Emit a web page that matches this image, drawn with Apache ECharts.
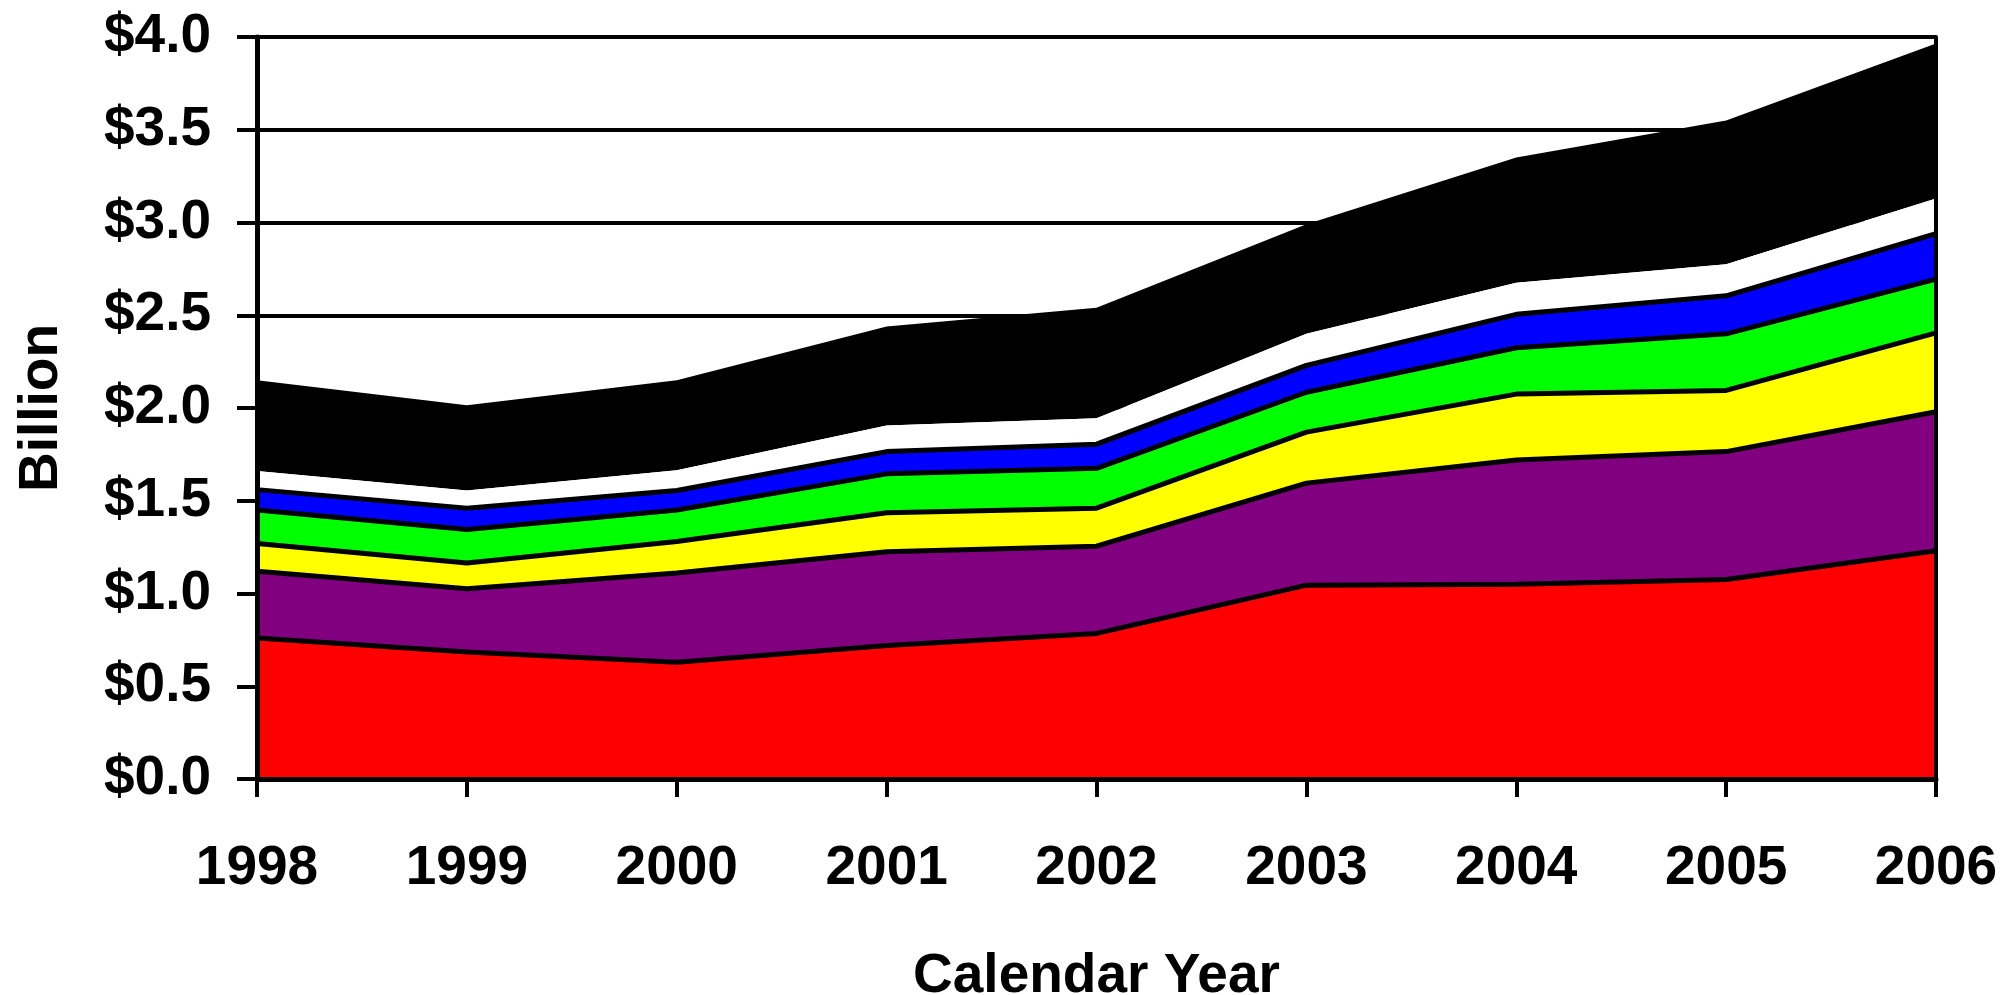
<!DOCTYPE html>
<html>
<head>
<meta charset="utf-8">
<script src="https://cdn.jsdelivr.net/npm/echarts@6/dist/echarts.min.js"></script>
<style>
html,body{margin:0;padding:0;background:#fff;}
#chart{width:2002px;height:995px;}
</style>
</head>
<body>
<div id="chart"></div>
<script>
// Data (billions of dollars, per layer, stacked bottom to top)
var years = ['1998','1999','2000','2001','2002','2003','2004','2005','2006'];
var yTickLabels = ['$0.0','$0.5','$1.0','$1.5','$2.0','$2.5','$3.0','$3.5','$4.0'];
var redVals    = [0.76, 0.685, 0.63, 0.72, 0.785, 1.045, 1.05, 1.075, 1.23];
var purpleVals = [0.36, 0.34, 0.48, 0.505, 0.47, 0.55, 0.67, 0.69, 0.75];
var yellowVals = [0.15, 0.14, 0.17, 0.21, 0.205, 0.275, 0.355, 0.33, 0.425];
var greenVals  = [0.18, 0.18, 0.17, 0.21, 0.215, 0.215, 0.25, 0.305, 0.29];
var blueVals   = [0.11, 0.115, 0.105, 0.12, 0.13, 0.145, 0.18, 0.205, 0.245];
var whiteVals  = [0.10, 0.095, 0.11, 0.14, 0.14, 0.17, 0.17, 0.17, 0.19];
var blackVals  = [0.49, 0.46, 0.485, 0.535, 0.595, 0.59, 0.675, 0.775, 0.835];

var layers = [
  {name:'Red', data: redVals, color:'#FF0000', line:5},
  {name:'Purple', data: purpleVals, color:'#800080', line:5},
  {name:'Yellow', data: yellowVals, color:'#FFFF00', line:5},
  {name:'Green', data: greenVals, color:'#00FF00', line:5},
  {name:'Blue', data: blueVals, color:'#0000FF', line:5},
  {name:'White', data: whiteVals, color:'#FFFFFF', line:0},
  {name:'Black', data: blackVals, color:'#000000', line:0}
];

var font = '"Liberation Sans", Arial, sans-serif';
var chart = echarts.init(document.getElementById('chart'), null, {renderer:'canvas'});

var series = layers.map(function(l, i){
  return {
    name: l.name,
    type: 'line',
    stack: 'total',
    data: l.data,
    symbol: 'none',
    z: 10 - i,
    lineStyle: {color:'#000', width: l.line},
    itemStyle: {color: l.color},
    areaStyle: {color: l.color, opacity: 1},
    emphasis: {disabled: true},
    animation: false
  };
});

chart.setOption({
  animation: false,
  backgroundColor: '#fff',
  grid: {left: 257, right: 66, top: 37, bottom: 216, containLabel: false, outerBoundsMode: 'none'},
  xAxis: {
    type: 'category',
    data: years,
    boundaryGap: false,
    z: 20,
    name: 'Calendar Year',
    nameLocation: 'middle',
    nameGap: 170,
    nameTextStyle: {fontFamily: font, fontWeight: 'bold', fontSize: 55, color: '#000'},
    axisLine: {lineStyle: {color: '#000', width: 5}},
    axisTick: {show: true, alignWithLabel: true, length: 18, lineStyle: {color:'#000', width: 4}},
    axisLabel: {fontFamily: font, fontWeight: 'bold', fontSize: 55, color: '#000', margin: 62, interval: 0},
    splitLine: {show: false}
  },
  yAxis: [
    {
      type: 'value', min: 0, max: 4, interval: 0.5, position: 'left', z: 20,
      name: 'Billion',
      nameLocation: 'middle',
      nameGap: 188,
      nameTextStyle: {fontFamily: font, fontWeight: 'bold', fontSize: 55, color: '#000'},
      axisLine: {show: true, lineStyle: {color: '#000', width: 5}},
      axisTick: {show: true, length: 20, lineStyle: {color: '#000', width: 4}},
      axisLabel: {
        fontFamily: font, fontWeight: 'bold', fontSize: 55, color: '#000', margin: 46,
        formatter: function(v){ return yTickLabels[Math.round(v / 0.5)]; }
      },
      splitLine: {show: false}
    },
    {
      type: 'value', min: 0, max: 4, interval: 0.5, position: 'left', z: 0,
      axisLine: {show: false}, axisTick: {show: false}, axisLabel: {show: false},
      splitLine: {show: true, lineStyle: {color: '#000', width: 4}}
    },
    {
      type: 'value', min: 0, max: 4, interval: 0.5, position: 'right', z: 20,
      axisLine: {show: true, lineStyle: {color: '#000', width: 4}},
      axisTick: {show: false}, axisLabel: {show: false}, splitLine: {show: false}
    }
  ],
  series: series
});
</script>
</body>
</html>
